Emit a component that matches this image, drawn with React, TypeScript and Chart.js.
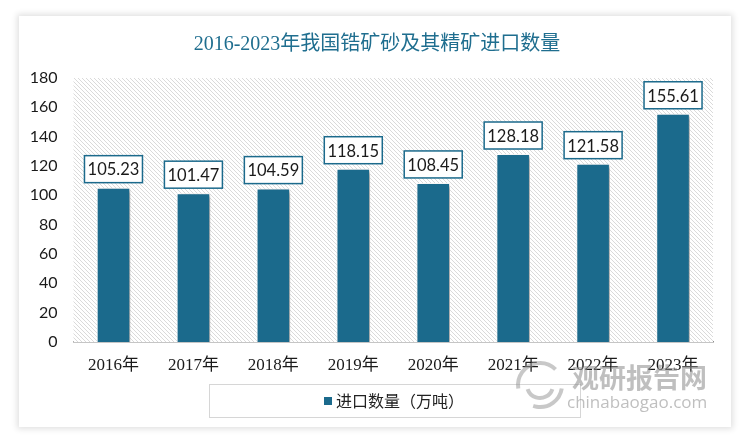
import React, { useEffect, useRef } from "react";
import { Chart, registerables } from "chart.js";

Chart.register(...registerables);

const TITLE = "2016-2023年我国锆矿砂及其精矿进口数量";
const categories = ["2016年", "2017年", "2018年", "2019年", "2020年", "2021年", "2022年", "2023年"];
const importVolume = [105.23, 101.47, 104.59, 118.15, 108.45, 128.18, 121.58, 155.61];
const seriesName = "进口数量（万吨）";
const yTicks = [0, 20, 40, 60, 80, 100, 120, 140, 160, 180];

const TEAL = "#1b6a8c";

function makeHatch(): CanvasPattern | string {
  const c = document.createElement("canvas");
  c.width = 4;
  c.height = 4;
  const g = c.getContext("2d");
  if (!g) return "#f2f2f2";
  g.fillStyle = "#ffffff";
  g.fillRect(0, 0, 4, 4);
  g.strokeStyle = "#dadada";
  g.lineWidth = 1;
  g.beginPath();
  g.moveTo(-1, -1);
  g.lineTo(5, 5);
  g.moveTo(-1, 3);
  g.lineTo(1, 5);
  g.moveTo(3, -1);
  g.lineTo(5, 1);
  g.stroke();
  return g.createPattern(c, "repeat") || "#f2f2f2";
}

export default function App() {
  const ref = useRef<HTMLCanvasElement | null>(null);

  useEffect(() => {
    document.body.style.margin = "0";
    const canvas = ref.current;
    if (!canvas) return;
    const hatch = makeHatch();

    const decor = {
      id: "decor",
      beforeDatasetsDraw(chart: any) {
        const { ctx, chartArea } = chart;
        ctx.save();
        ctx.fillStyle = hatch;
        ctx.fillRect(chartArea.left, chartArea.top, chartArea.right - chartArea.left, chartArea.bottom - chartArea.top);
        ctx.restore();
        ctx.save();
        ctx.shadowColor = "rgba(0,0,0,0.35)";
        ctx.shadowBlur = 4;
        ctx.shadowOffsetX = 3;
        ctx.shadowOffsetY = 2;
      },
      afterDatasetsDraw(chart: any) {
        const { ctx } = chart;
        ctx.restore();
        const meta = chart.getDatasetMeta(0);
        ctx.save();
        ctx.font = "16.5px Lato, 'Open Sans', sans-serif";
        ctx.textAlign = "center";
        ctx.textBaseline = "middle";
        meta.data.forEach((bar: any, i: number) => {
          const w = 58;
          const h = 27;
          const x = bar.x - w / 2;
          const y = bar.y - 5 - h;
          ctx.fillStyle = "#ffffff";
          ctx.fillRect(x, y, w, h);
          ctx.strokeStyle = TEAL;
          ctx.lineWidth = 1.5;
          ctx.strokeRect(x, y, w, h);
          ctx.fillStyle = "#1a1a1a";
          ctx.fillText(importVolume[i].toFixed(2), bar.x, y + h / 2 + 1);
        });
        ctx.restore();
      },
      afterDraw(chart: any) {
        const { ctx } = chart;
        ctx.save();
        ctx.fillStyle = "#1f6e8f";
        ctx.font = "20px 'Liberation Serif', 'Noto Sans CJK SC', serif";
        ctx.textAlign = "center";
        ctx.textBaseline = "middle";
        ctx.fillText(TITLE, 377, 45);
        const lx = 209, ly = 384, lw = 371, lh = 33;
        ctx.strokeStyle = "#d6d6d6";
        ctx.lineWidth = 1;
        ctx.strokeRect(lx + 0.5, ly + 0.5, lw, lh);
        ctx.fillStyle = TEAL;
        ctx.fillRect(324, 397, 8, 8);
        ctx.fillStyle = "#222222";
        ctx.font = "16px 'Noto Sans CJK SC', sans-serif";
        ctx.textAlign = "left";
        ctx.fillText(seriesName, 336, 401);
        ctx.globalAlpha = 0.55;
        ctx.fillStyle = "#8a8a8a";
        ctx.font = "bold 27px 'Noto Sans CJK SC', sans-serif";
        ctx.textAlign = "left";
        ctx.fillText("观研报告网", 572, 378);
        ctx.font = "17px 'Open Sans', 'DejaVu Sans', sans-serif";
        ctx.fillText("chinabaogao.com", 567, 403);
        ctx.strokeStyle = "#9a9a9a";
        ctx.lineWidth = 4;
        ctx.beginPath();
        ctx.arc(540, 385, 22, Math.PI * 0.95, Math.PI * 1.75);
        ctx.stroke();
        ctx.beginPath();
        ctx.arc(540, 385, 13, Math.PI * 0.1, Math.PI * 0.9);
        ctx.stroke();
        ctx.beginPath();
        ctx.arc(540, 385, 22, Math.PI * 0.05, Math.PI * 0.6);
        ctx.stroke();
        ctx.restore();
      },
    };

    const chart = new Chart(canvas, {
      type: "bar",
      data: {
        labels: categories,
        datasets: [
          {
            label: seriesName,
            data: importVolume,
            backgroundColor: TEAL,
            borderColor: "#ffffff",
            borderWidth: 1,
            barPercentage: 0.84,
            categoryPercentage: 0.5,
          },
        ],
      },
      options: {
        animation: false,
        responsive: false,
        maintainAspectRatio: false,
        layout: { padding: { top: 78, right: 37, left: 0, bottom: 0 } },
        plugins: {
          legend: { display: false },
          title: { display: false },
          tooltip: { enabled: false },
        },
        scales: {
          x: {
            grid: { display: false, drawTicks: false },
            border: { display: true, color: "#8c8c8c", width: 1.5 },
            ticks: {
              color: "#1a1a1a",
              font: { family: "'Liberation Serif', 'Noto Sans CJK SC', serif", size: 17 },
              padding: 13,
              maxRotation: 0,
            },
            afterFit: (s: any) => {
              s.height = 103;
            },
          },
          y: {
            min: 0,
            max: 180,
            afterBuildTicks: (s: any) => {
              s.ticks = yTicks.map((v) => ({ value: v }));
            },
            grid: { display: false, drawTicks: false },
            border: { display: false },
            ticks: {
              color: "#1a1a1a",
              font: { family: "Lato, 'Open Sans', sans-serif", size: 16 },
              padding: 16,
            },
            afterFit: (s: any) => {
              s.width = 73.5;
            },
          },
        },
      },
      plugins: [decor],
    });
    return () => chart.destroy();
  }, []);

  return (
    <div style={{ position: "relative", width: 750, height: 445, background: "#ffffff", overflow: "hidden" }}>
      <div
        style={{
          position: "absolute",
          left: 19,
          top: 16,
          width: 712,
          height: 411,
          background: "#ffffff",
          boxShadow: "0 0 6px 2px rgba(0,0,0,0.12)",
        }}
      />
      <canvas ref={ref} width={750} height={445} style={{ position: "absolute", left: 0, top: 0, width: 750, height: 445 }} />
    </div>
  );
}
